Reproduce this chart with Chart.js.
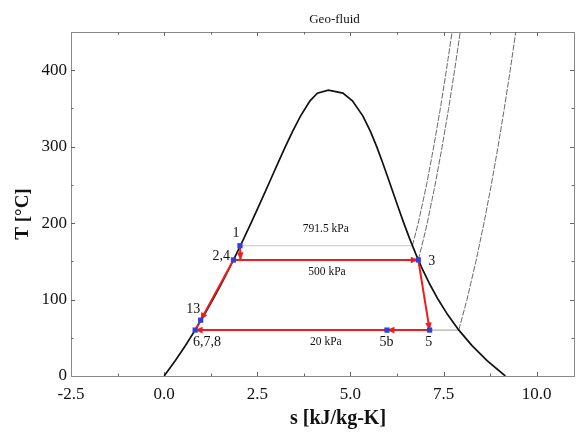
<!DOCTYPE html>
<html>
<head>
<meta charset="utf-8">
<title>Geo-fluid T-s</title>
<script src="https://cdn.jsdelivr.net/npm/chart.js@4.4.1/dist/chart.umd.min.js"></script>
<style>
    body { margin: 0; background: #fff; }
    #chart { display: block; }
</style>
</head>
<body>
<canvas id="chart" width="581" height="444"></canvas>
<script>
// saturation dome (water)
var satT = [0.01, 20, 40, 60, 80, 100, 120, 140, 160, 180, 200, 220, 240, 260, 280, 300, 320, 340, 360, 370, 373.95];
var sLiquid = [0, 0.2965, 0.5724, 0.8312, 1.0753, 1.3069, 1.5276, 1.7391, 1.9427, 2.1396, 2.3305, 2.5175, 2.702, 2.8849, 3.0685, 3.2534, 3.448, 3.6594, 3.9147, 4.1125, 4.407];
var sVapour = [9.1562, 8.6661, 8.2569, 7.9096, 7.6122, 7.3549, 7.1296, 6.9293, 6.7502, 6.5857, 6.4323, 6.2861, 6.1437, 6.0019, 5.8571, 5.7045, 5.5362, 5.3357, 5.0526, 4.7971, 4.407];

// superheated isobars
var iso791T = [170.4, 200, 250, 300, 350, 400, 450];
var iso791S = [6.662, 6.82, 7.042, 7.236, 7.413, 7.575, 7.727];
var iso500T = [151.8, 180, 200, 250, 300, 350, 400, 450];
var iso500S = [6.821, 6.965, 7.061, 7.272, 7.461, 7.635, 7.796, 7.946];
var iso20T = [60.06, 100, 150, 200, 250, 300, 350, 400, 450];
var iso20S = [7.908, 8.128, 8.368, 8.584, 8.78, 8.961, 9.13, 9.288, 9.437];

// cycle states
var stateNames = ["1", "2", "4", "3", "5", "5b", "6,7,8", "13"];
var stateS = [2.035, 2.05, 1.86, 6.821, 7.125, 5.98, 0.832, 0.98];
var stateT = [170.4, 151.8, 151.8, 151.8, 60.06, 60.06, 60.06, 73];
var squareStates = ["1", "4", "3", "5", "5b", "6,7,8", "13"];

// process lines, by state name (arrow at the last one)
var processes = [["1", "2"], ["4", "3"], ["3", "5"], ["5", "5b"], ["5b", "6,7,8"], ["4", "13"], ["13", "6,7,8"]];
var arrowed = [true, true, true, true, true, true, false];

// text on the plot
var labelText = ["1", "2,4", "3", "5", "5b", "6,7,8", "13", "791.5 kPa", "500 kPa", "20 kPa"];
var labelS = [1.93, 1.53, 7.18, 7.1, 5.97, 1.15, 0.78, 4.34, 4.37, 4.34];
var labelT = [186, 156, 149.4, 44.5, 44.5, 44.5, 87.8, 192.6, 136.3, 44.5];

var xTicks = [-2.5, 0, 2.5, 5, 7.5, 10];
var yTicks = [0, 100, 200, 300, 400];

var serif = "'Liberation Serif', 'Times New Roman', serif";

function pts(sArr, tArr) {
    return sArr.map(function(s, i) { return { x: s, y: tArr[i] }; });
}

function state(name) {
    var i = stateNames.indexOf(name);
    return { x: stateS[i], y: stateT[i] };
}

var datasets = [];

//blue state markers, on top
datasets.push({
    data: squareStates.map(state),
    showLine: false,
    pointStyle: "rect",
    pointRadius: 3.7,
    backgroundColor: "#2f3fe0",
    borderColor: "#2f3fe0",
    borderWidth: 0,
    order: 0
});

processes.forEach(function(p, i) {
    datasets.push({
        data: p.map(state),
        showLine: true,
        borderColor: "#ee1c1c",
        borderWidth: 2,
        pointRadius: 0,
        arrow: arrowed[i],
        order: 1
    });
});

//dome
datasets.push({
    data: pts(sLiquid, satT).concat(pts(sVapour, satT).reverse()),
    showLine: true,
    borderColor: "#111",
    borderWidth: 1.7,
    pointRadius: 0,
    order: 2
});

//isobars in the wet region
datasets.push({
    data: [{ x: stateS[0], y: 170.4 }, { x: iso791S[0], y: 170.4 }],
    showLine: true, borderColor: "#c4c4c4", borderWidth: 1.2, pointRadius: 0, order: 3
});
datasets.push({
    data: [{ x: stateS[6], y: 60.06 }, { x: iso20S[0], y: 60.06 }],
    showLine: true, borderColor: "#b0b0b0", borderWidth: 1.2, pointRadius: 0, order: 3
});

[[iso791S, iso791T], [iso500S, iso500T], [iso20S, iso20T]].forEach(function(c) {
    datasets.push({
        data: pts(c[0], c[1]),
        showLine: true,
        borderColor: "#444",
        borderWidth: 0.8,
        borderDash: [6, 1.5],
        pointRadius: 0,
        order: 3
    });
});

// frame + inward ticks on all sides
var frame = {
    id: "frame",
    beforeDatasetsDraw: function(chart) {
        var ctx = chart.ctx, a = chart.chartArea, x = chart.scales.x, y = chart.scales.y;
        ctx.save();
        ctx.strokeStyle = "#8a8a8a";
        ctx.lineWidth = 1;
        ctx.strokeRect(Math.round(a.left) + 0.5, Math.round(a.top) + 0.5, Math.round(a.right - a.left), Math.round(a.bottom - a.top));
        ctx.strokeStyle = "#666";
        ctx.beginPath();
        for (var v = -1.25; v < 11; v += 1.25) {
            var px = Math.round(x.getPixelForValue(v)) + 0.5;
            var len = Math.abs(v / 2.5 - Math.round(v / 2.5)) < 1e-6 ? 4 : 2.5;
            ctx.moveTo(px, a.bottom); ctx.lineTo(px, a.bottom - len);
            ctx.moveTo(px, a.top); ctx.lineTo(px, a.top + len);
        }
        for (var t = 50; t < 450; t += 50) {
            var py = Math.round(y.getPixelForValue(t)) + 0.5;
            var l = t % 100 === 0 ? 4 : 2.5;
            ctx.moveTo(a.left, py); ctx.lineTo(a.left + l, py);
            ctx.moveTo(a.right, py); ctx.lineTo(a.right - l, py);
        }
        ctx.stroke();
        ctx.restore();
    }
};

// arrow heads at the end of process lines
var arrows = {
    id: "arrows",
    afterDatasetDraw: function(chart, args) {
        var ds = chart.data.datasets[args.index];
        if (!ds.arrow) return;
        var el = args.meta.data;
        var p1 = el[el.length - 2], p2 = el[el.length - 1];
        var ang = Math.atan2(p2.y - p1.y, p2.x - p1.x);
        var ctx = chart.ctx;
        ctx.save();
        ctx.translate(p2.x, p2.y);
        ctx.rotate(ang);
        ctx.fillStyle = "#ee1c1c";
        ctx.beginPath();
        ctx.moveTo(0, 0);
        ctx.lineTo(-7.5, -3.3);
        ctx.lineTo(-7.5, 3.3);
        ctx.closePath();
        ctx.fill();
        ctx.restore();
    }
};

var texts = {
    id: "texts",
    afterDraw: function(chart) {
        var ctx = chart.ctx, x = chart.scales.x, y = chart.scales.y;
        ctx.save();
        ctx.fillStyle = "#111";
        ctx.textAlign = "center";
        ctx.textBaseline = "middle";

        ctx.font = "13px " + serif;
        ctx.fillText("Geo-fluid", 334.5, 20);

        ctx.font = "bold 20px " + serif;
        ctx.fillText("s [kJ/kg-K]", 338, 419);

        ctx.save();
        ctx.translate(23, 214);
        ctx.rotate(-Math.PI / 2);
        ctx.font = "bold 19px " + serif;
        ctx.fillText("T [°C]", 0, 0);
        ctx.restore();

        labelText.forEach(function(txt, i) {
            ctx.font = (txt.indexOf("kPa") >= 0 ? "11.5px " : "14px ") + serif;
            ctx.fillText(txt, x.getPixelForValue(labelS[i]), y.getPixelForValue(labelT[i]));
        });
        ctx.restore();
    }
};

function keepTicks(list) {
    return function(scale) {
        scale.ticks = scale.ticks.filter(function(t) {
            return list.some(function(v) { return Math.abs(v - t.value) < 1e-6; });
        });
    };
}

var chart = new Chart(document.getElementById("chart"), {
    type: "scatter",
    data: { datasets: datasets },
    plugins: [frame, arrows, texts],
    options: {
        responsive: false,
        animation: false,
        layout: { padding: { top: 32, right: 7, left: 0, bottom: 0 } },
        plugins: {
            legend: { display: false },
            tooltip: { enabled: false }
        },
        scales: {
            x: {
                type: "linear",
                min: -2.5,
                max: 11,
                grid: { display: false, drawTicks: false },
                border: { display: false },
                ticks: {
                    stepSize: 2.5,
                    padding: 8,
                    color: "#111",
                    font: { family: serif, size: 17 },
                    callback: function(v) { return v.toFixed(1); }
                },
                afterBuildTicks: keepTicks(xTicks),
                afterFit: function(s) { s.height = 68; }
            },
            y: {
                type: "linear",
                min: 0,
                max: 450,
                grid: { display: false, drawTicks: false },
                border: { display: false },
                ticks: {
                    stepSize: 100,
                    padding: 4,
                    color: "#111",
                    font: { family: serif, size: 17 }
                },
                afterBuildTicks: keepTicks(yTicks),
                afterFit: function(s) { s.width = 71; }
            }
        }
    }
});
</script>
</body>
</html>
